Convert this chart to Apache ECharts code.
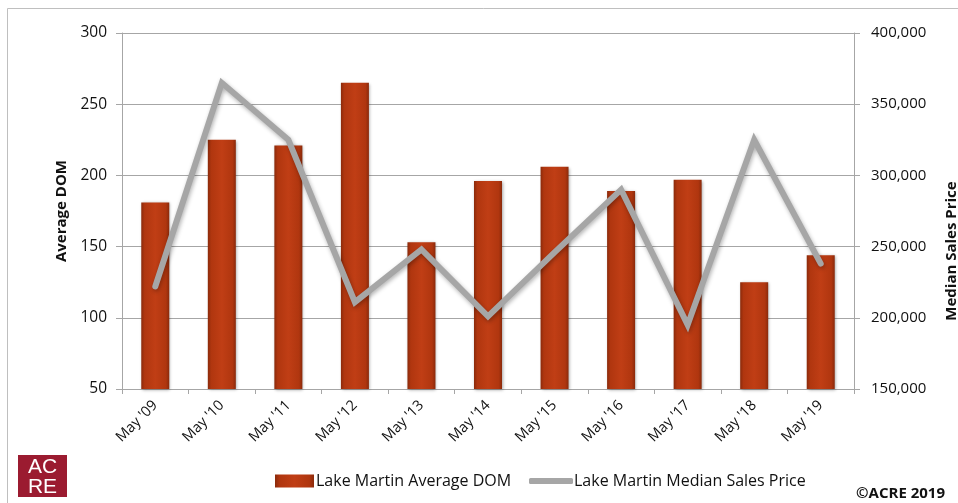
<!DOCTYPE html>
<html>
<head>
<meta charset="utf-8">
<script src="https://cdn.jsdelivr.net/npm/echarts@6/dist/echarts.min.js"></script>
<style>
html,body{margin:0;padding:0;background:#fff;}
#c{width:958px;height:503px;}
</style>
</head>
<body>
<div id="c"></div>
<script>
const categories = ["May '09","May '10","May '11","May '12","May '13","May '14","May '15","May '16","May '17","May '18","May '19"];
const avgDom = [181, 225, 221, 265, 153, 196, 206, 189, 197, 125, 144];
const medianPrice = [222000, 365000, 325000, 211000, 248000, 201000, 246000, 290000, 195000, 325000, 238000];
const leftTicks = {min: 50, max: 300, interval: 50};
const rightTicks = {min: 150000, max: 400000, interval: 50000};

const FONT = 'Open Sans';
const chart = echarts.init(document.getElementById('c'), null, {renderer: 'canvas'});
const barGrad = new echarts.graphic.LinearGradient(0, 0, 1, 0, [
  {offset: 0, color: '#8a2a0b'},
  {offset: 0.12, color: '#b0360f'},
  {offset: 0.5, color: '#c03e15'},
  {offset: 0.88, color: '#b0360f'},
  {offset: 1, color: '#8a2a0b'}
]);
chart.setOption({
  animation: false,
  textStyle: {fontFamily: FONT},
  grid: {left: 122, right: 104, top: 33, bottom: 114, containLabel: false},
  legend: [
    {data: [{name: 'Lake Martin Average DOM', icon: 'rect'}], left: 270, top: 468, itemWidth: 39, itemHeight: 13, itemGap: 4,
     textStyle: {fontFamily: FONT, fontSize: 16, color: '#111', padding: [0, 0, 0, -3]}},
    {data: [{name: 'Lake Martin Median Sales Price', icon: 'roundRect'}], left: 524, top: 468, itemWidth: 44, itemHeight: 6,
     textStyle: {fontFamily: FONT, fontSize: 16, color: '#111', padding: [0, 0, 0, -4]}}
  ],
  xAxis: {
    type: 'category', data: categories,
    axisLine: {lineStyle: {color: '#a6a6a6', width: 1}},
    axisTick: {show: true, alignWithLabel: false, length: 5, lineStyle: {color: '#a6a6a6'}},
    axisLabel: {rotate: 45, fontSize: 14.5, color: '#111', margin: 14, fontFamily: FONT}
  },
  yAxis: [
    {type: 'value', min: leftTicks.min, max: leftTicks.max, interval: leftTicks.interval, position: 'left',
     axisLine: {show: true, lineStyle: {color: '#a6a6a6'}},
     axisTick: {show: true, length: 6, lineStyle: {color: '#a6a6a6'}},
     axisLabel: {fontSize: 15.5, color: '#111', margin: 15, fontFamily: FONT},
     splitLine: {show: true, lineStyle: {color: '#a6a6a6', width: 1}}},
    {type: 'value', min: rightTicks.min, max: rightTicks.max, interval: rightTicks.interval, position: 'right',
     axisLine: {show: true, lineStyle: {color: '#a6a6a6'}},
     axisTick: {show: true, length: 6, lineStyle: {color: '#a6a6a6'}},
     axisLabel: {fontSize: 15, color: '#111', margin: 17, fontFamily: FONT,
       formatter: v => v.toLocaleString('en-US')},
     splitLine: {show: false}}
  ],
  series: [
    {name: 'Lake Martin Average DOM', type: 'bar', yAxisIndex: 0, data: avgDom, barWidth: 28,
     itemStyle: {color: barGrad,
       shadowColor: 'rgba(0,0,0,0.35)', shadowBlur: 3, shadowOffsetX: 1, shadowOffsetY: 1}},
    {name: 'Lake Martin Median Sales Price', type: 'line', yAxisIndex: 1, data: medianPrice,
     symbol: 'none', z: 5,
     lineStyle: {color: '#a6a6a6', width: 6, cap: 'round', join: 'miter',
       shadowColor: 'rgba(0,0,0,0.3)', shadowBlur: 4, shadowOffsetX: 1, shadowOffsetY: 2},
     itemStyle: {color: '#a6a6a6'}}
  ],
  graphic: [
    {type: 'rect', shape: {x: 7.5, y: 8.5, width: 960, height: 520}, style: {fill: 'none', stroke: '#bfbfbf', lineWidth: 1}, z: -1},
    {type: 'text', x: 62, y: 211, rotation: Math.PI/2, style: {text: 'Average DOM', fontFamily: FONT, fontSize: 15, fontWeight: 'bold', fill: '#111', align: 'center', verticalAlign: 'middle'}},
    {type: 'text', x: 952, y: 251, rotation: Math.PI/2, style: {text: 'Median Sales Price', fontFamily: FONT, fontSize: 15, fontWeight: 'bold', fill: '#111', align: 'center', verticalAlign: 'middle'}},
    {type: 'rect', shape: {x: 18, y: 455, width: 49, height: 42}, style: {fill: '#9b1b30'}},
    {type: 'text', x: 42.5, y: 467, style: {text: 'AC', fontFamily: 'Liberation Sans', fontSize: 21, fill: '#fff', align: 'center', verticalAlign: 'middle'}},
    {type: 'text', x: 42.5, y: 487, style: {text: 'RE', fontFamily: 'Liberation Sans', fontSize: 21, fill: '#fff', align: 'center', verticalAlign: 'middle'}},
    {type: 'text', x: 945, y: 494, style: {text: '©ACRE 2019', fontFamily: FONT, fontSize: 15, fontWeight: 'bold', fill: '#111', align: 'right', verticalAlign: 'middle'}}
  ]
});
</script>
</body>
</html>
